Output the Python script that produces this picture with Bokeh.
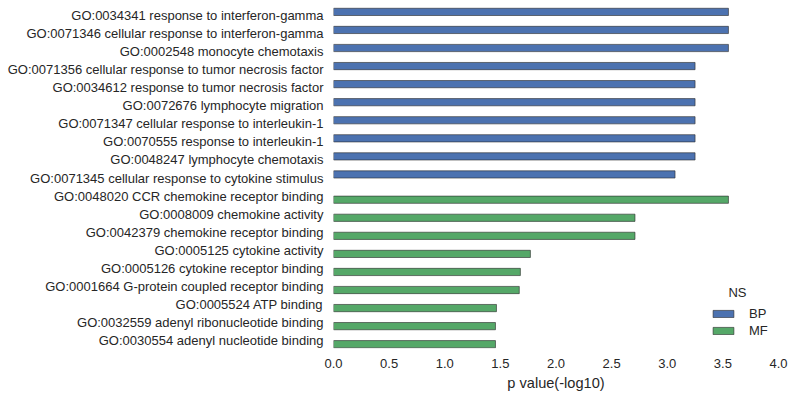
from bokeh.plotting import figure
from bokeh.models import ColumnDataSource, Range1d, FixedTicker, Legend, LegendItem, Label
from bokeh.transform import dodge
from bokeh.embed import file_html
from bokeh.resources import INLINE

terms = [
    "GO:0034341 response to interferon-gamma",
    "GO:0071346 cellular response to interferon-gamma",
    "GO:0002548 monocyte chemotaxis",
    "GO:0071356 cellular response to tumor necrosis factor",
    "GO:0034612 response to tumor necrosis factor",
    "GO:0072676 lymphocyte migration",
    "GO:0071347 cellular response to interleukin-1",
    "GO:0070555 response to interleukin-1",
    "GO:0048247 lymphocyte chemotaxis",
    "GO:0071345 cellular response to cytokine stimulus",
    "GO:0048020 CCR chemokine receptor binding",
    "GO:0008009 chemokine activity",
    "GO:0042379 chemokine receptor binding",
    "GO:0005125 cytokine activity",
    "GO:0005126 cytokine receptor binding",
    "GO:0001664 G-protein coupled receptor binding",
    "GO:0005524 ATP binding",
    "GO:0032559 adenyl ribonucleotide binding",
    "GO:0030554 adenyl nucleotide binding",
]
ns = ["BP"] * 10 + ["MF"] * 9
pvals = [3.55, 3.55, 3.55, 3.25, 3.25, 3.25, 3.25, 3.25, 3.25, 3.07,
         3.55, 2.71, 2.71, 1.77, 1.68, 1.67, 1.465, 1.456, 1.456]
ns_levels = ["BP", "MF"]
ns_colors = ["#4C72B0", "#55A868"]
x_ticks = [0.0, 0.5, 1.0, 1.5, 2.0, 2.5, 3.0, 3.5, 4.0]

FONT = "Liberation Sans"
TXT = "#262626"
FS = "13px"

p = figure(width=795, height=397, output_backend="svg", toolbar_location=None,
           x_range=Range1d(0, 4), y_range=Range1d(18.438, -0.8306),
           min_border_left=333, min_border_right=17, min_border_top=0, min_border_bottom=49)
p.outline_line_color = None
p.grid.visible = False

renderers = {}
offsets = {"BP": -0.2, "MF": 0.2}
for lvl, col in zip(ns_levels, ns_colors):
    idx = [i for i, n in enumerate(ns) if n == lvl]
    src = ColumnDataSource(dict(idx=idx, val=[pvals[i] for i in idx]))
    r = p.hbar(y=dodge("idx", offsets[lvl]), right="val", left=0, height=0.4, source=src,
               fill_color=col, line_color="#2a2a2a", line_alpha=0.6, line_width=1)
    renderers[lvl] = r

# y axis
p.yaxis.ticker = FixedTicker(ticks=list(range(len(terms))))
p.yaxis.major_label_overrides = {i: t for i, t in enumerate(terms)}
p.yaxis.axis_line_color = None
p.yaxis.major_tick_line_color = None
p.yaxis.minor_tick_line_color = None
p.yaxis.major_tick_out = 0
p.yaxis.major_tick_in = 0
p.yaxis.major_label_standoff = 10
p.yaxis.major_label_text_font = FONT
p.yaxis.major_label_text_font_size = FS
p.yaxis.major_label_text_color = TXT

# x axis
p.xaxis.ticker = FixedTicker(ticks=x_ticks)
p.xaxis.major_label_overrides = {t: f"{t:.1f}" for t in x_ticks}
p.xaxis.axis_line_color = None
p.xaxis.major_tick_line_color = None
p.xaxis.minor_tick_line_color = None
p.xaxis.major_label_standoff = 4
p.xaxis.major_label_text_font = FONT
p.xaxis.major_label_text_font_size = FS
p.xaxis.major_label_text_color = TXT
p.xaxis.axis_label = "p value(-log10)"
p.xaxis.axis_label_text_font = FONT
p.xaxis.axis_label_text_font_size = "14.6px"
p.xaxis.axis_label_text_font_style = "normal"
p.xaxis.axis_label_text_color = TXT
p.xaxis.axis_label_standoff = 4

legend = Legend(items=[LegendItem(label=l, renderers=[renderers[l]]) for l in ns_levels],
                location=(377, 10), orientation="vertical",
                glyph_width=26, glyph_height=9, label_height=16, spacing=1,
                label_standoff=13, padding=0, margin=0,
                border_line_alpha=0, background_fill_alpha=0,
                label_text_font=FONT, label_text_font_size=FS, label_text_color=TXT)
p.add_layout(legend, "center")

p.add_layout(Label(x=404, y=56, x_units="screen", y_units="screen", text="NS",
                   text_font=FONT, text_font_size=FS, text_color=TXT,
                   text_align="center", text_baseline="middle"))

open("out.html", "w").write(file_html(p, INLINE))
